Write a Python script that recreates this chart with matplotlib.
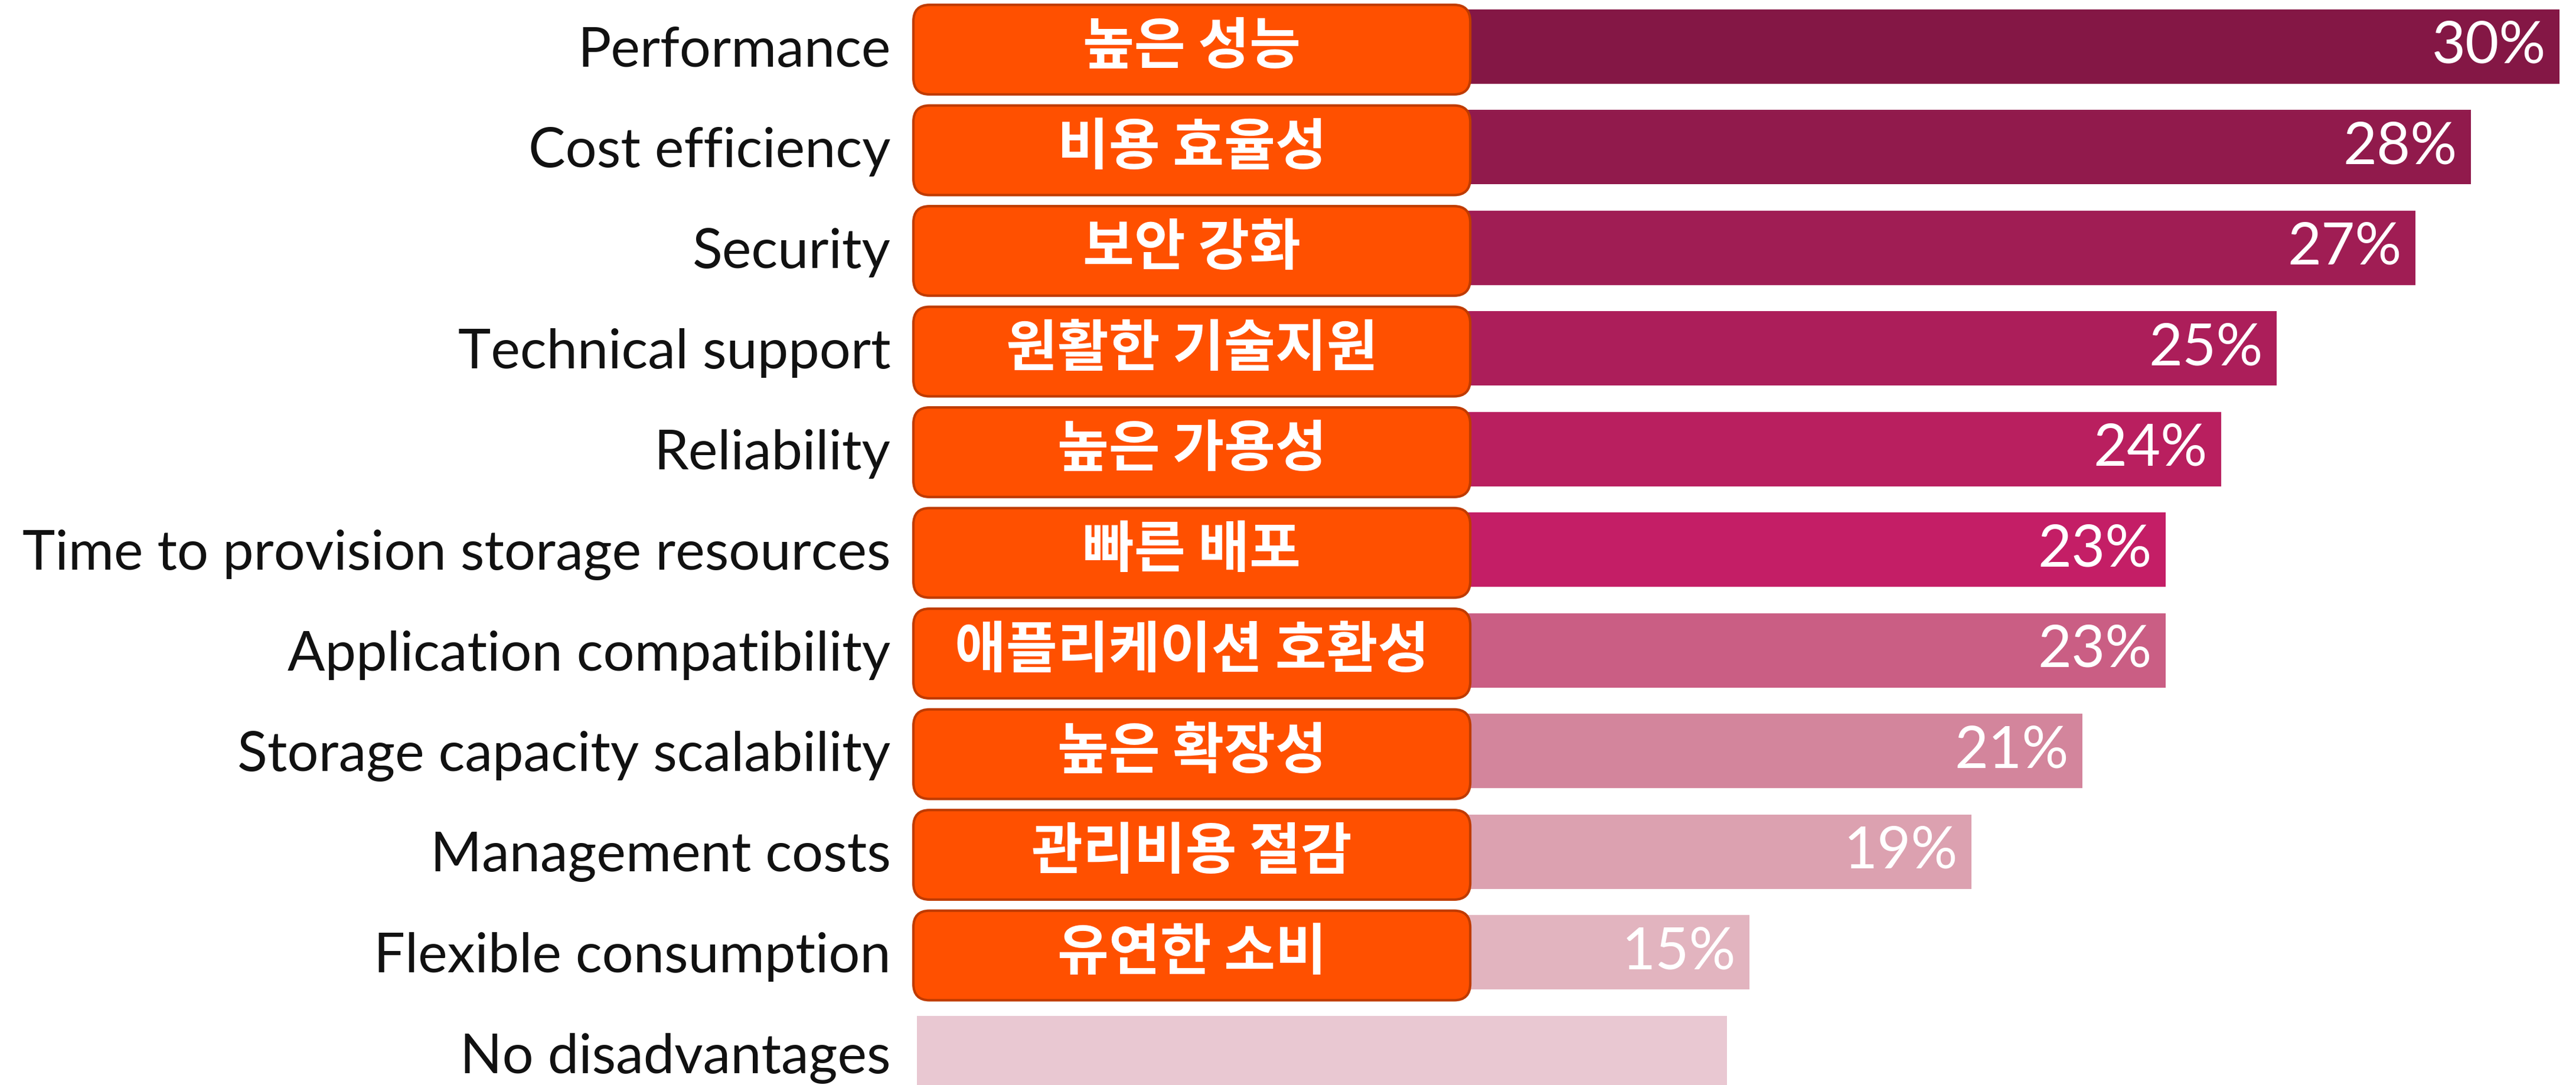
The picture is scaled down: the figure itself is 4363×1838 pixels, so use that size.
import matplotlib
matplotlib.use("Agg")
import matplotlib.pyplot as plt
from matplotlib.patches import FancyBboxPatch

# data ------------------------------------------------------------------
categories = ["Performance", "Cost efficiency", "Security", "Technical support",
              "Reliability", "Time to provision storage resources",
              "Application compatibility", "Storage capacity scalability",
              "Management costs", "Flexible consumption", "No disadvantages"]
korean = ["높은 성능", "비용 효율성", "보안 강화", "원활한 기술지원", "높은 가용성",
          "빠른 배포", "애플리케이션 호환성", "높은 확장성", "관리비용 절감",
          "유연한 소비", None]
values = [29.6, 28.0, 27.0, 24.5, 23.5, 22.5, 22.5, 21.0, 19.0, 15.0, 14.6]
value_labels = ["30%", "28%", "27%", "25%", "24%", "23%", "23%", "21%", "19%", "15%", ""]
colors = ["#841745", "#911A4C", "#A01D54", "#AC1E5A", "#B91F5F", "#C41E66",
          "#CA5E84", "#D3859C", "#DCA1B0", "#E2B4BF", "#E9C8D2"]

W, H = 4363, 1838
DPI = 100
fig = plt.figure(figsize=(W / DPI, H / DPI), dpi=DPI)

x0px = 1553
ax = fig.add_axes([x0px / W, 0, 1 - x0px / W, 1])
ax.set_xlim(0, (W - x0px) / 94.0)
ax.set_ylim(10.317, -0.463)

ypos = list(range(len(categories)))
ax.barh(ypos, values, height=0.739, color=colors, edgecolor="none")

ax.set_yticks(ypos)
ax.set_yticklabels(categories, fontsize=67.5, family=["Lato", "DejaVu Sans"], color="#111111")
ax.tick_params(axis="y", length=0, pad=32)
ax.set_xticks([])
for s in ax.spines.values():
    s.set_visible(False)

# percentage labels
for i in range(len(values)):
    if value_labels[i] == "":
        continue
    ax.annotate(value_labels[i], xy=(values[i], i), xytext=(-16.5, 0),
                textcoords="offset points", ha="right", va="center",
                fontsize=71, color="white", fontweight="normal",
                family=["Lato", "DejaVu Sans"])

# orange korean boxes
box_left = -0.064
box_right = 9.97
for i in range(len(korean)):
    if korean[i] is None:
        continue
    yc = i + 0.03
    box = FancyBboxPatch((box_left, yc - 0.445), box_right - box_left, 0.89,
                         boxstyle="round,pad=0,rounding_size=0.29",
                         mutation_aspect=0.57, facecolor="#FF5000",
                         edgecolor="#BF3B00", linewidth=3, clip_on=False, zorder=3)
    ax.add_patch(box)
    ax.text((box_left + box_right) / 2, i + 0.01, korean[i], ha="center", va="center",
            fontsize=68, fontweight="bold", color="white",
            family=["Noto Sans CJK KR", "DejaVu Sans"], zorder=4)

plt.savefig("out.png", dpi=DPI)
